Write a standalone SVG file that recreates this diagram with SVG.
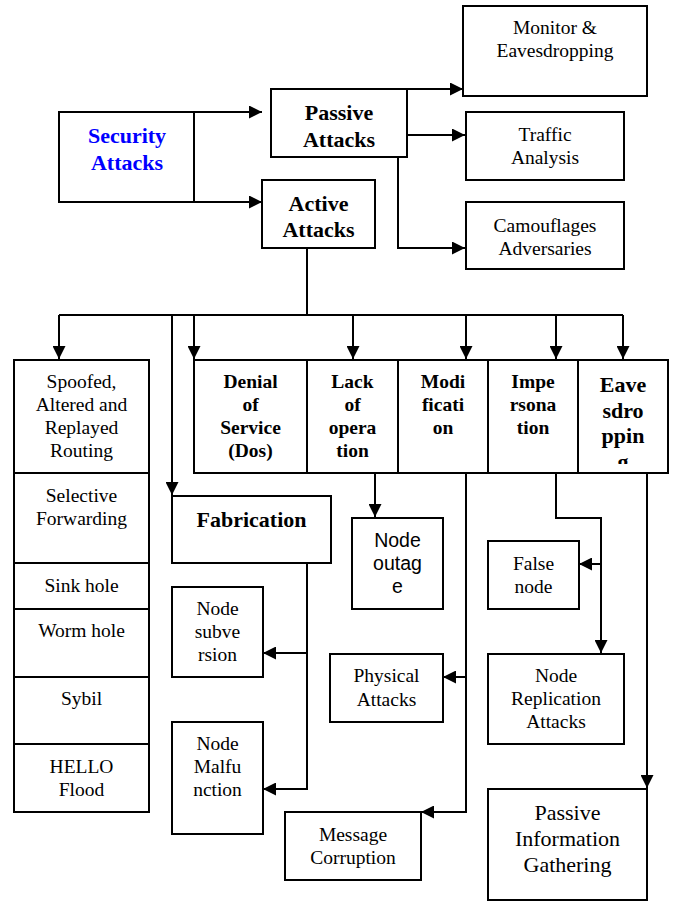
<svg xmlns="http://www.w3.org/2000/svg" width="675" height="902" viewBox="0 0 675 902" font-family="Liberation Serif, Times New Roman, serif">
<style>
.box{fill:#fff;stroke:#000;stroke-width:2}
.c{fill:none;stroke:#000;stroke-width:2}
text{font-family:"Liberation Serif","Times New Roman",serif;font-size:19.5px;fill:#000;text-anchor:middle}
.b{font-weight:bold}
.big{font-size:22px}
.sans{font-family:"Liberation Sans",Arial,sans-serif}
.blue{fill:#0000ff}
</style>
<defs>
<marker id="ah" markerUnits="userSpaceOnUse" viewBox="0 0 13 13" refX="13" refY="6.5" markerWidth="13" markerHeight="13" orient="auto">
<path d="M0,0 L13,6.5 L0,13 Z" fill="#000"/>
</marker>
<clipPath id="eaveclip"><rect x="578" y="360" width="90" height="104"/></clipPath>
</defs>

<g id="connectors">
<path class="c" d="M194,112 H262" marker-end="url(#ah)"/>
<path class="c" d="M194,202 H262" marker-end="url(#ah)"/>
<path class="c" d="M398,89 H463" marker-end="url(#ah)"/>
<path class="c" d="M397,135 H465" marker-end="url(#ah)"/>
<path class="c" d="M398,157 V248 H465" marker-end="url(#ah)"/>
<path class="c" d="M307,248 V315"/>
<path class="c" d="M59,315 H623"/>
<path class="c" d="M59,315 V359" marker-end="url(#ah)"/>
<path class="c" d="M194,315 V359" marker-end="url(#ah)"/>
<path class="c" d="M353,315 V359" marker-end="url(#ah)"/>
<path class="c" d="M466,315 V359" marker-end="url(#ah)"/>
<path class="c" d="M556,315 V359" marker-end="url(#ah)"/>
<path class="c" d="M623,315 V359" marker-end="url(#ah)"/>
<path class="c" d="M172,315 V495" marker-end="url(#ah)"/>
<path class="c" d="M375,473 V517" marker-end="url(#ah)"/>
<path class="c" d="M307,563 V789 H263" marker-end="url(#ah)"/>
<path class="c" d="M307,653 H263" marker-end="url(#ah)"/>
<path class="c" d="M466,473 V812 H421" marker-end="url(#ah)"/>
<path class="c" d="M466,677 H443" marker-end="url(#ah)"/>
<path class="c" d="M556,473 V518 H601 V653" marker-end="url(#ah)"/>
<path class="c" d="M601,564 H579" marker-end="url(#ah)"/>
<path class="c" d="M647,473 V788" marker-end="url(#ah)"/>
</g>

<g id="security">
<rect class="box" x="59" y="112" width="135" height="90"/>
<text class="b big blue" x="127" y="143">Security</text>
<text class="b big blue" x="127" y="170">Attacks</text>
</g>
<g id="passive">
<rect class="box" x="271" y="89" width="136" height="68"/>
<text class="b big" x="339" y="120">Passive</text>
<text class="b big" x="339" y="147">Attacks</text>
</g>
<g id="active">
<rect class="box" x="262" y="180" width="113" height="68"/>
<text class="b big" x="318.5" y="211">Active</text>
<text class="b big" x="318.5" y="237">Attacks</text>
</g>
<g id="monitor">
<rect class="box" x="463" y="6" width="184" height="90"/>
<text x="555" y="34">Monitor &amp;</text>
<text x="555" y="57">Eavesdropping</text>
</g>
<g id="traffic">
<rect class="box" x="466" y="112" width="158" height="68"/>
<text x="545" y="141">Traffic</text>
<text x="545" y="164">Analysis</text>
</g>
<g id="camouflages">
<rect class="box" x="466" y="202" width="158" height="67"/>
<text x="545" y="232">Camouflages</text>
<text x="545" y="255">Adversaries</text>
</g>

<g id="spoofed">
<rect class="box" x="14" y="360" width="135" height="113"/>
<text x="81.5" y="388">Spoofed,</text>
<text x="81.5" y="411">Altered and</text>
<text x="81.5" y="434">Replayed</text>
<text x="81.5" y="457">Routing</text>
</g>
<g id="selective">
<rect class="box" x="14" y="473" width="135" height="90"/>
<text x="81.5" y="502">Selective</text>
<text x="81.5" y="525">Forwarding</text>
</g>
<g id="sinkhole">
<rect class="box" x="14" y="563" width="135" height="46"/>
<text x="81.5" y="592">Sink hole</text>
</g>
<g id="wormhole">
<rect class="box" x="14" y="609" width="135" height="68"/>
<text x="81.5" y="637">Worm hole</text>
</g>
<g id="sybil">
<rect class="box" x="14" y="677" width="135" height="67"/>
<text x="81.5" y="705">Sybil</text>
</g>
<g id="hello">
<rect class="box" x="14" y="744" width="135" height="68"/>
<text x="81.5" y="773">HELLO</text>
<text x="81.5" y="796">Flood</text>
</g>

<g id="dos">
<rect class="box" x="194" y="360" width="113" height="113"/>
<text class="b" x="250.5" y="388">Denial</text>
<text class="b" x="250.5" y="411">of</text>
<text class="b" x="250.5" y="434">Service</text>
<text class="b" x="250.5" y="457">(Dos)</text>
</g>
<g id="lack">
<rect class="box" x="307" y="360" width="91" height="113"/>
<text class="b" x="352.5" y="388">Lack</text>
<text class="b" x="352.5" y="411">of</text>
<text class="b" x="352.5" y="434">opera</text>
<text class="b" x="352.5" y="457">tion</text>
</g>
<g id="modification">
<rect class="box" x="398" y="360" width="90" height="113"/>
<text class="b" x="443" y="388">Modi</text>
<text class="b" x="443" y="411">ficati</text>
<text class="b" x="443" y="434">on</text>
</g>
<g id="impersonation">
<rect class="box" x="488" y="360" width="90" height="113"/>
<text class="b" x="533" y="388">Impe</text>
<text class="b" x="533" y="411">rsona</text>
<text class="b" x="533" y="434">tion</text>
</g>
<g id="eavesdropping">
<rect class="box" x="578" y="360" width="90" height="113"/>
<g clip-path="url(#eaveclip)">
<text class="b big" x="623" y="392">Eave</text>
<text class="b big" x="623" y="418">sdro</text>
<text class="b big" x="623" y="443">ppin</text>
<text class="b big" x="623" y="469">g</text>
</g>
</g>

<g id="fabrication">
<rect class="box" x="172" y="496" width="159" height="67"/>
<text class="b big" x="251.5" y="527">Fabrication</text>
</g>
<g id="nodeoutage">
<rect class="box" x="352" y="518" width="91" height="91"/>
<text class="sans" x="397.5" y="547">Node</text>
<text class="sans" x="397.5" y="570">outag</text>
<text class="sans" x="397.5" y="593">e</text>
</g>
<g id="falsenode">
<rect class="box" x="488" y="541" width="91" height="68"/>
<text x="533.5" y="570">False</text>
<text x="533.5" y="593">node</text>
</g>
<g id="nodesubversion">
<rect class="box" x="172" y="587" width="91" height="90"/>
<text x="217.5" y="615">Node</text>
<text x="217.5" y="638">subve</text>
<text x="217.5" y="661">rsion</text>
</g>
<g id="physical">
<rect class="box" x="330" y="654" width="113" height="68"/>
<text x="386.5" y="682">Physical</text>
<text x="386.5" y="706">Attacks</text>
</g>
<g id="nodereplication">
<rect class="box" x="488" y="654" width="136" height="90"/>
<text x="556" y="682">Node</text>
<text x="556" y="705">Replication</text>
<text x="556" y="728">Attacks</text>
</g>
<g id="nodemalfunction">
<rect class="box" x="172" y="722" width="91" height="112"/>
<text x="217.5" y="750">Node</text>
<text x="217.5" y="773">Malfu</text>
<text x="217.5" y="796">nction</text>
</g>
<g id="message">
<rect class="box" x="285" y="812" width="136" height="68"/>
<text x="353" y="841">Message</text>
<text x="353" y="864">Corruption</text>
</g>
<g id="passiveinfo">
<rect class="box" x="488" y="789" width="159" height="111"/>
<text class="big" x="567.5" y="820">Passive</text>
<text class="big" x="567.5" y="846">Information</text>
<text class="big" x="567.5" y="872">Gathering</text>
</g>
</svg>
